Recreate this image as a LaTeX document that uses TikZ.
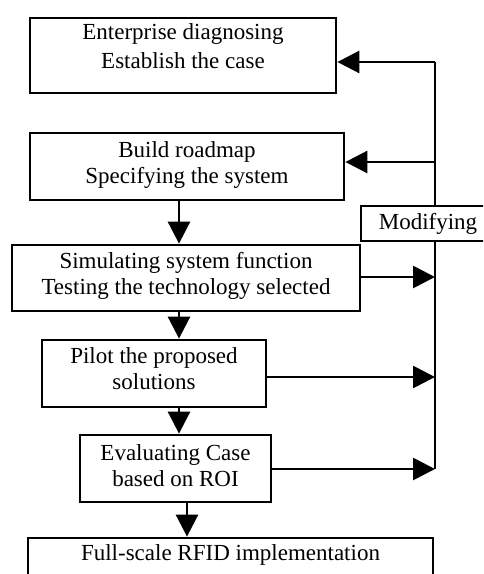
\documentclass[tikz,border=0pt]{standalone}
\usepackage{fontspec}
\setmainfont{Liberation Serif}
\usetikzlibrary{arrows.meta}
\begin{document}
\begin{tikzpicture}[x=1pt,y=-1pt,
  box/.style={draw, line width=2.8pt, fill=white, inner sep=0pt},
  txt/.style={font=\fontsize{23}{26}\selectfont, align=center, inner sep=0pt, anchor=base},
  arr/.style={line width=2.8pt, -{Triangle[length=22pt,width=22pt]}},
  ln/.style={line width=2.8pt}]
\useasboundingbox (0,0) rectangle (483,574);
\clip (0,0) rectangle (483,574);
% boxes
\node[box, minimum width=306pt, minimum height=75pt] (b1) at (183,55.5) {};
\node[box, minimum width=314pt, minimum height=67pt] (b2) at (187,166.5) {};
\node[box, minimum width=348pt, minimum height=66pt] (b3) at (186,278) {};
\node[box, minimum width=224pt, minimum height=67pt] (b4) at (154,373.5) {};
\node[box, minimum width=191pt, minimum height=67pt] (b5) at (175.5,468.5) {};
\node[box, minimum width=405pt, minimum height=62pt] (b6) at (230.5,569) {};
% feedback line
\coordinate (fbtop) at (435,62);
\coordinate (fb2) at (435,162);
\coordinate (fbbot) at (435,469);
\draw[ln] (fbtop) -- (fbbot);
\draw[arr] (fbtop) -- (fbtop -| b1.east);
\draw[arr] (fb2) -- (fb2 -| b2.east);
\draw[arr] (b3.east |- 0,277) -- (fbtop |- 0,277);
\draw[arr] (b4.east |- 0,377) -- (fbtop |- 0,377);
\draw[arr] (b5.east |- 0,469) -- (fbtop |- 0,469);
% modifying box
\node[box, minimum width=139pt, minimum height=35pt] (mod) at (430.5,223.5) {};
% down arrows
\draw[arr] (b2.south -| 179,0) -- (b3.north -| 179,0);
\draw[arr] (b3.south -| 179,0) -- (b4.north -| 179,0);
\draw[arr] (b4.south -| 179,0) -- (b5.north -| 179,0);
\draw[arr] (b5.south -| 187,0) -- (b6.north -| 187,0);
% texts (base anchor = baseline of last line)
\node[txt, font=\fontsize{23}{29}\selectfont] (t1) at (183,68) {Enterprise diagnosing\\Establish the case};
\node[txt] (t2) at (187,183) {Build roadmap\\Specifying the system};
\node[txt] (t3) at (186,294) {Simulating system function\\Testing the technology selected};
\node[txt] (t4) at (154,389) {Pilot the proposed\\solutions};
\node[txt] (t5) at (175.5,486) {Evaluating Case\\based on ROI};
\node[txt] (t6) at (230.5,560) {Full-scale RFID implementation};
\node[txt] (tm) at (428,229) {Modifying};
\end{tikzpicture}
\end{document}
